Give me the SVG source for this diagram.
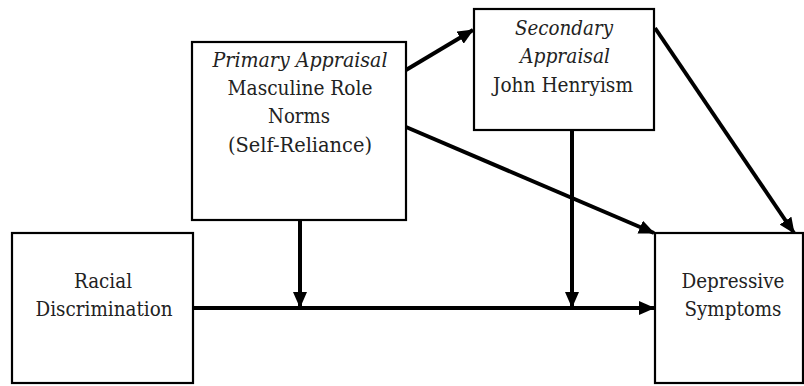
<svg xmlns="http://www.w3.org/2000/svg" width="804" height="386" viewBox="0 0 804 386">
<style>
.box{fill:#fff;stroke:#000;stroke-width:2.2}
.t{font-family:"DejaVu Serif","Liberation Serif",serif;font-size:21px;fill:#222;text-anchor:middle}
.i{font-style:italic}
.c{stroke:#000;stroke-width:4;fill:none}
</style>
<defs>
<marker id="ah" markerUnits="userSpaceOnUse" markerWidth="16" markerHeight="14" refX="15" refY="7" orient="auto">
<path d="M0,0 L16,7 L0,14 Z" fill="#000"/>
</marker>
</defs>
<g id="racial">
<rect class="box" x="12" y="233" width="181" height="150"/>
<text class="t" x="103" y="288" textLength="58" lengthAdjust="spacingAndGlyphs">Racial</text>
<text class="t" x="104" y="316" textLength="137" lengthAdjust="spacingAndGlyphs">Discrimination</text>
</g>
<g id="primary">
<rect class="box" x="192" y="42" width="214" height="178"/>
<text class="t i" x="300" y="67" textLength="175" lengthAdjust="spacingAndGlyphs">Primary Appraisal</text>
<text class="t" x="300" y="95" textLength="145" lengthAdjust="spacingAndGlyphs">Masculine Role</text>
<text class="t" x="299" y="123" textLength="62" lengthAdjust="spacingAndGlyphs">Norms</text>
<text class="t" x="300" y="152" textLength="144" lengthAdjust="spacingAndGlyphs">(Self-Reliance)</text>
</g>
<g id="secondary">
<rect class="box" x="474" y="9" width="180" height="121"/>
<text class="t i" x="564" y="35" textLength="98" lengthAdjust="spacingAndGlyphs">Secondary</text>
<text class="t i" x="565" y="63" textLength="90" lengthAdjust="spacingAndGlyphs">Appraisal</text>
<text class="t" x="563" y="92" textLength="140" lengthAdjust="spacingAndGlyphs">John Henryism</text>
</g>
<g id="depressive">
<rect class="box" x="655" y="233" width="148" height="150"/>
<text class="t" x="733" y="288" textLength="103" lengthAdjust="spacingAndGlyphs">Depressive</text>
<text class="t" x="733" y="316" textLength="97" lengthAdjust="spacingAndGlyphs">Symptoms</text>
</g>
<g id="connectors">
<line class="c" x1="193" y1="308" x2="654" y2="308" marker-end="url(#ah)"/>
<line class="c" x1="300" y1="220" x2="300" y2="307" marker-end="url(#ah)"/>
<line class="c" x1="572" y1="130" x2="572" y2="307" marker-end="url(#ah)"/>
<line class="c" x1="406" y1="70" x2="473" y2="30" marker-end="url(#ah)"/>
<line class="c" x1="406" y1="127" x2="654" y2="233" marker-end="url(#ah)"/>
<line class="c" x1="655" y1="28" x2="794" y2="233" marker-end="url(#ah)"/>
</g>
</svg>
